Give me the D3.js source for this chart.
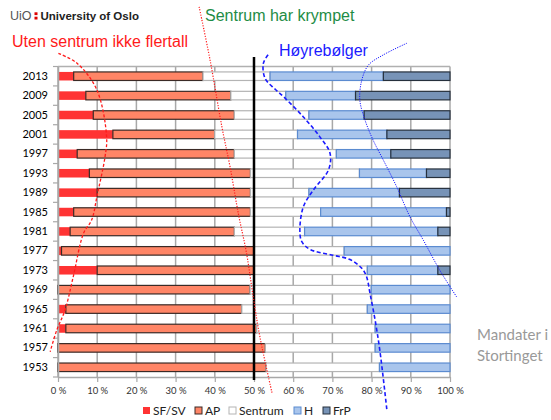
<!DOCTYPE html>
<html>
<head>
<meta charset="utf-8">
<script src="https://cdn.jsdelivr.net/npm/d3@7"></script>
<style>
  body { margin: 0; background: #fff; }
  svg { display: block; }
</style>
</head>
<body>
<div id="chart"></div>
<script>
// election years, top to bottom
var years = [2013, 2009, 2005, 2001, 1997, 1993, 1989, 1985, 1981, 1977, 1973, 1969, 1965, 1961, 1957, 1953];

// share of seats (%)
var sfsv    = [4.0, 7.1, 9.0, 14.0, 4.9, 8.0, 10.0, 4.0, 3.1, 0.9, 10.0, 0, 2.0, 2.0, 0, 0];
var ap      = [33.0, 37.0, 36.0, 26.0, 40.1, 41.1, 39.1, 45.1, 41.9, 49.1, 40.0, 49.0, 44.9, 48.7, 52.9, 53.1];
var sentrum = [17.1, 14.0, 19.0, 21.1, 26.0, 27.8, 14.9, 17.9, 17.9, 23.0, 28.9, 30.9, 32.0, 30.2, 28.0, 28.9];
var hoyre   = [28.9, 17.8, 14.1, 22.8, 13.9, 17.1, 23.1, 32.1, 34.0, 27.0, 18.0, 20.1, 21.1, 19.1, 19.1, 18.0];
var frp     = [17.0, 24.1, 21.9, 16.1, 15.1, 6.0, 12.9, 0.9, 3.1, 0, 3.1, 0, 0, 0, 0, 0];

var partyKeys = ["SF/SV", "AP", "Sentrum", "H", "FrP"];
var xTicks = [0, 10, 20, 30, 40, 50, 60, 70, 80, 90, 100];

// hand-drawn annotation curves as [percent, year]
var redDashed = [[0.1, 2017.7], [4.8, 2015.7], [9.9, 2010.2], [12.4, 2000.5], [12.0, 1996.4], [10.0, 1988.5],
  [8.6, 1983.4], [6.5, 1980.6], [3.9, 1971.7], [1.8, 1964.8], [-0.3, 1960.7], [-2.0, 1956.2]];
var redDotted = [[36.0, 2027.3], [38.8, 2016.3], [41.8, 2002.6], [43.9, 1994.3], [46.0, 1984.7],
  [48.1, 1976.5], [49.8, 1967.5], [51.5, 1959.3], [54.6, 1947.7]];
var blueDashed = [[53.6, 2017.4], [52.4, 2015.7], [52.8, 2012.6], [55.4, 2010.3], [57.5, 2008.8], [62.6, 2004.6],
  [66.8, 2000.5], [69.4, 1997.1], [69.0, 1993.7], [65.1, 1989.5], [62.6, 1986.1], [61.7, 1981.3],
  [62.2, 1978.9], [64.3, 1977.3], [70.2, 1976.1], [74.5, 1975.2], [77.5, 1973.4], [78.7, 1971.7],
  [79.6, 1968.2], [80.9, 1962.7], [82.1, 1956.5], [83.9, 1944.2]];
var blueDotted = [[89.0, 2019.8], [83.0, 2017.4], [79.2, 2015.3], [77.5, 2012.2], [77.0, 2008.1], [78.3, 2004.0],
  [80.4, 1999.8], [83.0, 1995.7], [86.4, 1990.2], [89.8, 1984.0], [93.2, 1979.2], [97.4, 1973.0], [101.7, 1967.5]];

var fills   = { "SF/SV": "#ff3333", "AP": "#ff8566", "Sentrum": "#ffffff", "H": "#a9c5ec", "FrP": "#7793b7" };
var strokes = { "SF/SV": "#ff3333", "AP": "#3a2a26", "Sentrum": "#b4b4b4", "H": "#5b8bd0", "FrP": "#26303c" };

var svgWidth = 551;
var svgHeight = 420;

var svg = d3.select("#chart")
  .append("svg")
  .attr("width", svgWidth)
  .attr("height", svgHeight);

// build rows for the stack
var rows = years.map(function(y, i) {
  return { year: y, "SF/SV": sfsv[i], "AP": ap[i], "Sentrum": sentrum[i], "H": hoyre[i], "FrP": frp[i] };
});
var series = d3.stack().keys(partyKeys)(rows);

var x = d3.scaleLinear().domain([0, 100]).range([58, 450]);
var y = d3.scaleBand().domain(years).range([66.5, 377]).paddingInner(0.56).paddingOuter(0.28);
var bw = y.bandwidth();
// continuous year scale for annotation curves
var yYear = d3.scaleLinear()
  .domain([2013, 1953])
  .range([y(2013) + bw / 2, y(1953) + bw / 2]);

var plotTop = 66.5, plotBottom = 377;

// gridlines
svg.append("g")
  .selectAll("line")
  .data(xTicks)
  .enter()
  .append("line")
  .attr("x1", d => x(d))
  .attr("x2", d => x(d))
  .attr("y1", plotTop)
  .attr("y2", plotBottom)
  .attr("stroke", "#a8a8a8")
  .attr("stroke-width", 1.5);

svg.append("line")
  .attr("x1", x(0)).attr("x2", x(100))
  .attr("y1", plotTop).attr("y2", plotTop)
  .attr("stroke", "#b0b0b0")
  .attr("stroke-width", 1.5);

// bars
svg.append("g")
  .selectAll("g")
  .data(series)
  .enter()
  .append("g")
  .attr("fill", d => fills[d.key])
  .attr("stroke", d => strokes[d.key])
  .attr("stroke-width", d => d.key === "SF/SV" ? 0 : 1.2)
  .selectAll("rect")
  .data(d => d.filter(s => s[1] - s[0] > 0))
  .enter()
  .append("rect")
  .attr("x", d => x(d[0]))
  .attr("width", d => x(d[1]) - x(d[0]))
  .attr("y", d => y(d.data.year))
  .attr("height", bw);

// axes
var bottomAxis = d3.axisBottom(x)
  .tickValues(xTicks)
  .tickFormat(d => d + " %")
  .tickSizeInner(5)
  .tickSizeOuter(0);

var xAxis = svg.append("g")
  .attr("transform", `translate(0, ${plotBottom})`)
  .call(bottomAxis);
xAxis.select(".domain").attr("stroke", "#a8a8a8").attr("stroke-width", 1.5);
xAxis.selectAll(".tick line").attr("stroke", "#a8a8a8").attr("stroke-width", 1.2);
xAxis.selectAll(".tick text")
  .attr("font-family", "Lato, 'Open Sans', sans-serif")
  .attr("font-size", "9.5px")
  .attr("fill", "#333")
  .attr("dy", "0.95em");

var leftAxis = d3.axisLeft(y).tickSize(0);
var yAxis = svg.append("g")
  .attr("transform", `translate(${x(0)}, 0)`)
  .call(leftAxis);
yAxis.select(".domain").attr("stroke", "#a8a8a8").attr("stroke-width", 1.5);
yAxis.selectAll(".tick text")
  .attr("x", -10)
  .attr("font-family", "Lato, 'Open Sans', sans-serif")
  .attr("font-size", "11px")
  .attr("fill", "#000");

// small ticks between the year bands
var step = y.step();
svg.append("g")
  .selectAll("line")
  .data(d3.range(years.length + 1))
  .enter()
  .append("line")
  .attr("x1", x(0) - 5)
  .attr("x2", x(0))
  .attr("y1", i => plotTop + i * (plotBottom - plotTop) / years.length)
  .attr("y2", i => plotTop + i * (plotBottom - plotTop) / years.length)
  .attr("stroke", "#a8a8a8")
  .attr("stroke-width", 1.2);

// majority line
svg.append("line")
  .attr("x1", x(50)).attr("x2", x(50))
  .attr("y1", 57).attr("y2", 380)
  .attr("stroke", "#000")
  .attr("stroke-width", 2.5);

// annotation curves
var curve = d3.line()
  .x(d => x(d[0]))
  .y(d => yYear(d[1]))
  .curve(d3.curveCatmullRom);

svg.append("path").attr("d", curve(redDashed))
  .attr("fill", "none").attr("stroke", "#ff1a1a").attr("stroke-width", 1.3).attr("stroke-dasharray", "3,2");
svg.append("path").attr("d", curve(redDotted))
  .attr("fill", "none").attr("stroke", "#ff1a1a").attr("stroke-width", 1.2).attr("stroke-dasharray", "1.2,1.5");
svg.append("path").attr("d", curve(blueDashed))
  .attr("fill", "none").attr("stroke", "#1a1aff").attr("stroke-width", 1.6).attr("stroke-dasharray", "4,2.5");
svg.append("path").attr("d", curve(blueDotted))
  .attr("fill", "none").attr("stroke", "#1a1aff").attr("stroke-width", 1).attr("stroke-dasharray", "1.2,1.2");

// legend
var legendItems = [
  { key: "SF/SV", x: 143 },
  { key: "AP", x: 195 },
  { key: "Sentrum", x: 229 },
  { key: "H", x: 294 },
  { key: "FrP", x: 323 }
];
var legend = svg.append("g").selectAll("g")
  .data(legendItems)
  .enter()
  .append("g")
  .attr("transform", d => `translate(${d.x}, 407)`);
legend.append("rect")
  .attr("width", 7).attr("height", 7)
  .attr("fill", d => fills[d.key])
  .attr("stroke", d => d.key === "SF/SV" ? "none" : strokes[d.key])
  .attr("stroke-width", 1);
legend.append("text")
  .attr("x", 10).attr("y", 7.5)
  .attr("font-family", "Lato, 'Open Sans', sans-serif")
  .attr("font-size", "12px")
  .attr("fill", "#222")
  .text(d => d.key);

// logo
svg.append("text")
  .attr("x", 10).attr("y", 20)
  .attr("font-family", "'Liberation Sans', Arial, sans-serif")
  .attr("font-size", "12.5px")
  .attr("fill", "#555")
  .text("UiO");
svg.append("rect").attr("x", 34.5).attr("y", 12.3).attr("width", 3).attr("height", 2.8).attr("fill", "#dd0000");
svg.append("rect").attr("x", 34.5).attr("y", 16.7).attr("width", 3).attr("height", 2.8).attr("fill", "#dd0000");
svg.append("text")
  .attr("x", 40.5).attr("y", 20)
  .attr("font-family", "'Liberation Sans', Arial, sans-serif")
  .attr("font-size", "11.5px")
  .attr("font-weight", "bold")
  .attr("fill", "#222")
  .text("University of Oslo");

// annotation texts
svg.append("text")
  .attr("x", 12).attr("y", 47)
  .attr("font-family", "'Liberation Sans', Arial, sans-serif")
  .attr("font-size", "16px")
  .attr("fill", "#ff1a1a")
  .text("Uten sentrum ikke flertall");

svg.append("text")
  .attr("x", 205).attr("y", 21)
  .attr("font-family", "'Liberation Sans', Arial, sans-serif")
  .attr("font-size", "16px")
  .attr("fill", "#1e8c45")
  .text("Sentrum har krympet");

svg.append("text")
  .attr("x", 279).attr("y", 56)
  .attr("font-family", "'Liberation Sans', Arial, sans-serif")
  .attr("font-size", "16px")
  .attr("fill", "#1a1aff")
  .text("Høyrebølger");

var mandater = svg.append("text")
  .attr("font-family", "Lato, 'Open Sans', sans-serif")
  .attr("font-size", "15px")
  .attr("fill", "#999");
mandater.append("tspan").attr("x", 477).attr("y", 340).text("Mandater i");
mandater.append("tspan").attr("x", 477).attr("y", 361).text("Stortinget");
</script>
</body>
</html>
